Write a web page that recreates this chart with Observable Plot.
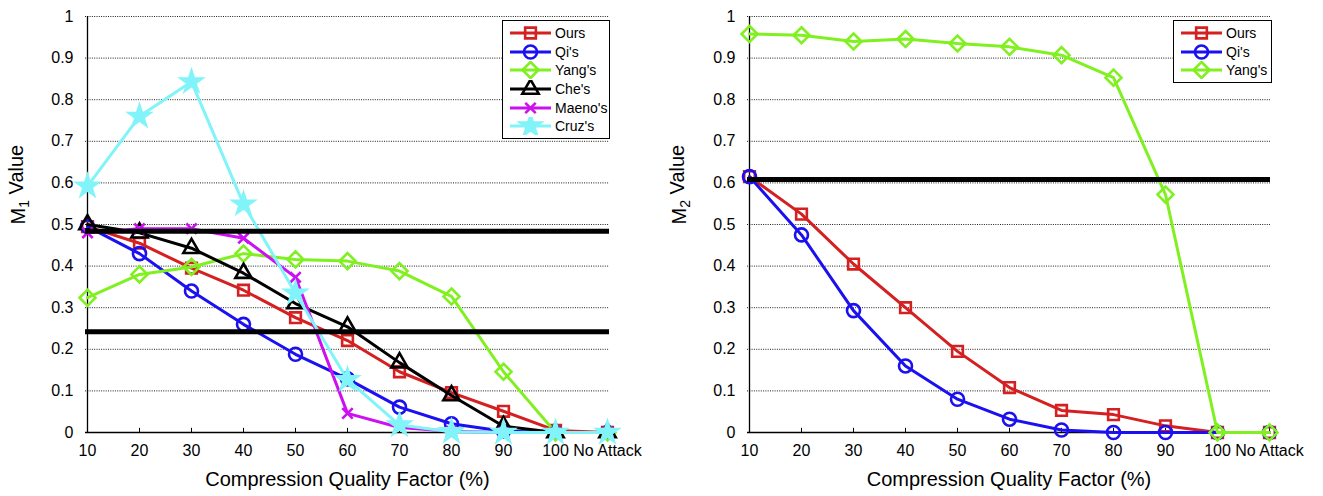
<!DOCTYPE html>
<html>
<head>
<meta charset="utf-8">
<script src="https://cdn.jsdelivr.net/npm/d3@7"></script>
<script src="https://cdn.jsdelivr.net/npm/@observablehq/plot@0.6"></script>
<style>
  body { margin: 0; background: #fff; font-family: "Liberation Sans", Arial, Helvetica, sans-serif; }
  #wrap { position: relative; width: 1323px; height: 496px; display: flex; }
  .legend { position: absolute; border: 1px solid #000; background: #fff; box-sizing: border-box; padding-top: 3px; }
  .legend .row { display: flex; align-items: center; height: 18.6px; font-size: 14px; color: #000; }
  .legend svg { display: block; }
</style>
</head>
<body>
<div id="wrap"></div>
<script>
// ---------- data ----------
const qualities = ["10", "20", "30", "40", "50", "60", "70", "80", "90", "100", "No Attack"];
const yTicks = [0, 0.1, 0.2, 0.3, 0.4, 0.5, 0.6, 0.7, 0.8, 0.9, 1];

// Left chart: M1 value
const m1Ours   = [0.495, 0.455, 0.395, 0.342, 0.276, 0.221, 0.146, 0.096, 0.051, 0.005, 0];
const m1Qi     = [0.495, 0.430, 0.340, 0.260, 0.188, 0.129, 0.061, 0.021, 0.003, 0, 0];
const m1Yang   = [0.324, 0.380, 0.398, 0.430, 0.416, 0.412, 0.388, 0.327, 0.146, 0, 0];
const m1Che    = [0.500, 0.480, 0.443, 0.383, 0.310, 0.254, 0.168, 0.089, 0.015, 0, 0];
const m1Maeno  = [0.480, 0.490, 0.490, 0.467, 0.373, 0.046, 0.012, 0.003, 0, 0, 0];
const m1Cruz   = [0.592, 0.760, 0.843, 0.549, 0.335, 0.127, 0.018, 0.002, 0, 0, 0];
const m1Thresholds = [0.484, 0.242];

// Right chart: M2 value
const m2Ours = [0.615, 0.525, 0.405, 0.300, 0.195, 0.108, 0.053, 0.043, 0.016, 0, 0];
const m2Qi   = [0.615, 0.475, 0.293, 0.160, 0.080, 0.032, 0.006, 0, 0, 0, 0];
const m2Yang = [0.958, 0.955, 0.940, 0.946, 0.935, 0.927, 0.907, 0.853, 0.572, 0, 0];
const m2Thresholds = [0.608];

// ---------- styles ----------
const styles = {
  "Ours":    {color: "#d42020", symbol: "square2",   r: 6.8, fill: "none"},
  "Qi's":    {color: "#1a10f0", symbol: "circle",    r: 6.5, fill: "none"},
  "Yang's":  {color: "#80f020", symbol: "diamond2",  r: 7.2, fill: "none"},
  "Che's":   {color: "#000000", symbol: "triangle2", r: 7.8, fill: "none"},
  "Maeno's": {color: "#cc10f0", symbol: "times",     r: 4.8, fill: "none"},
  "Cruz's":  {color: "#80f4f8", symbol: "star",      r: 6.5, fill: "#80f4f8"}
};
const symbolMap = {
  square2: d3.symbolSquare2, circle: d3.symbolCircle, diamond2: d3.symbolDiamond2,
  triangle2: d3.symbolTriangle2, times: d3.symbolTimes, star: d3.symbolStar
};

const FONT = "'Liberation Sans', Arial, Helvetica, sans-serif";

function makeChart({series, thresholds, sub, width, marginLeft, marginRight}) {
  const marks = [
    Plot.gridY(yTicks.slice(1), {stroke: "#111", strokeOpacity: 0.95, strokeWidth: 1, strokeDasharray: "1,1.3"}),
    Plot.ruleX([qualities[0]], {y1: 0, y2: 1, stroke: "#000", strokeWidth: 1.3}),
    Plot.ruleY([0], {stroke: "#000", strokeWidth: 1.3}),
    Plot.ruleX(qualities.slice(1), {y1: 0, y2: 0.01, stroke: "#000", strokeWidth: 1}),
    Plot.axisX({tickSize: 0, tickPadding: 12, fontSize: 16, label: null}),
    Plot.axisY({ticks: yTicks, tickSize: 0, tickPadding: 12, fontSize: 16, label: null,
      tickFormat: d => String(+d.toFixed(1))})
  ];
  for (const s of series) {
    const st = styles[s.name];
    marks.push(Plot.line(s.values, {x: (d, i) => qualities[i], y: d => d, stroke: st.color, strokeWidth: 3}));
    marks.push(Plot.dot(s.values, {x: (d, i) => qualities[i], y: d => d, symbol: st.symbol, r: st.r,
      stroke: st.color, fill: st.fill, strokeWidth: 2.6}));
  }
  marks.push(Plot.ruleY(thresholds, {stroke: "#000", strokeWidth: 5}));
  marks.push(Plot.text(["Compression Quality Factor (%)"], {frameAnchor: "bottom", dy: 53, fontSize: 20, fill: "#000"}));
  marks.push(Plot.text([`M${sub} Value`], {frameAnchor: "left", dx: -(marginLeft - 18), rotate: -90, fontSize: 20, fill: "#000"}));

  const svg = Plot.plot({
    width, height: 496,
    marginTop: 16, marginBottom: 64, marginLeft, marginRight,
    style: {fontFamily: FONT, fontSize: "16px", color: "#000", background: "#fff", overflow: "visible"},
    x: {type: "point", domain: qualities, padding: 0},
    y: {domain: [0, 1]},
    marks
  });
  // subscript in y label
  d3.select(svg).selectAll("text").each(function() {
    if (this.textContent === `M${sub} Value`) {
      const t = d3.select(this);
      t.text(null);
      t.append("tspan").text("M");
      t.append("tspan").attr("dy", "0.3em").attr("font-size", "14px").text(sub);
      t.append("tspan").attr("dy", "-0.3em").text(" Value");
    }
  });
  return svg;
}

function makeLegend(names, left, top, width) {
  const div = document.createElement("div");
  div.className = "legend";
  div.style.left = left + "px";
  div.style.top = top + "px";
  div.style.width = width + "px";
  div.style.height = (names.length * 18.6 + 7) + "px";
  for (const n of names) {
    const st = styles[n];
    const row = document.createElement("div");
    row.className = "row";
    const s = d3.create("svg").attr("width", 52).attr("height", 18);
    s.append("line").attr("x1", 7).attr("x2", 48).attr("y1", 9).attr("y2", 9)
      .attr("stroke", st.color).attr("stroke-width", 3);
    s.append("path").attr("transform", "translate(27.5,9)")
      .attr("d", d3.symbol(symbolMap[st.symbol], Math.PI * st.r * st.r)())
      .attr("stroke", st.color).attr("stroke-width", 2.6).attr("fill", st.fill);
    row.appendChild(s.node());
    const label = document.createElement("span");
    label.textContent = n;
    row.appendChild(label);
    div.appendChild(row);
  }
  return div;
}

const wrap = document.getElementById("wrap");
wrap.appendChild(makeChart({
  series: [
    {name: "Ours", values: m1Ours}, {name: "Qi's", values: m1Qi}, {name: "Yang's", values: m1Yang},
    {name: "Che's", values: m1Che}, {name: "Maeno's", values: m1Maeno}, {name: "Cruz's", values: m1Cruz}
  ],
  thresholds: m1Thresholds, sub: "1", width: 661, marginLeft: 85, marginRight: 52
}));
wrap.appendChild(makeChart({
  series: [{name: "Ours", values: m2Ours}, {name: "Qi's", values: m2Qi}, {name: "Yang's", values: m2Yang}],
  thresholds: m2Thresholds, sub: "2", width: 662, marginLeft: 86, marginRight: 53
}));
wrap.appendChild(makeLegend(["Ours", "Qi's", "Yang's", "Che's", "Maeno's", "Cruz's"], 502, 20, 108));
wrap.appendChild(makeLegend(["Ours", "Qi's", "Yang's"], 1173, 20, 99));
</script>
</body>
</html>
